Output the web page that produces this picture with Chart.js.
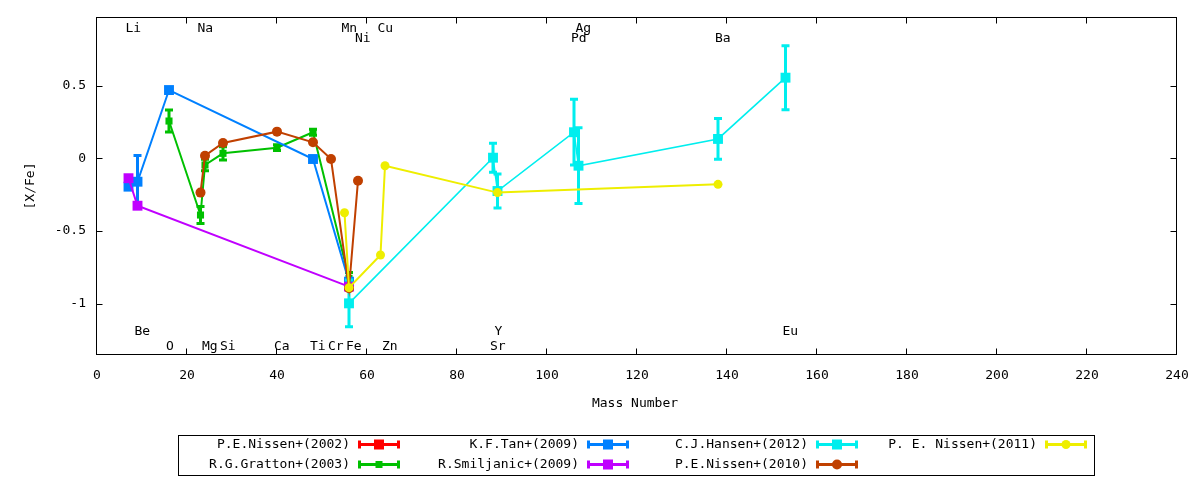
<!DOCTYPE html>
<html><head><meta charset="utf-8">
<script src="https://cdn.jsdelivr.net/npm/chart.js@4/dist/chart.umd.min.js"></script>
<style>html,body{margin:0;padding:0;background:#fff;} #wrap{width:1200px;height:480px;position:relative;}</style>
</head><body><div id="wrap"><canvas id="c"></canvas></div>
<script>
// ---- data ----
const seriesNames = ['P.E.Nissen+(2002)','R.G.Gratton+(2003)','K.F.Tan+(2009)','R.Smiljanic+(2009)','C.J.Hansen+(2012)','P.E.Nissen+(2010)','P. E. Nissen+(2011)'];
const seriesColors = ['#ff0000','#00c000','#0080ff','#c000ff','#00eeee','#c04000','#eeee00'];
const seriesMarkers = ['rect','rect','rect','rect','rect','circle','circle'];

const nissen2002Mass = [];
const nissen2002Val = [];
const nissen2002Err = [];

const gratton2003Mass = [16, 23, 24, 28, 40, 48, 56];
const gratton2003Val = [0.256, -0.39, -0.046, 0.034, 0.073, 0.179, -0.825];
const gratton2003Err = [0.075, 0.058, 0.04, 0.045, 0.02, 0.02, 0.04];

const tan2009Mass = [7, 9, 16, 48, 56];
const tan2009Val = [-0.195, -0.161, 0.469, -0.005, -0.848];
const tan2009Err = [0, 0.18, 0, 0, 0];

const smiljanic2009Mass = [7, 9, 56];
const smiljanic2009Val = [-0.137, -0.326, -0.882];
const smiljanic2009Err = [0, 0, 0];

const hansen2012Mass = [56, 88, 89, 106, 107, 138, 153];
const hansen2012Val = [-0.997, 0.004, -0.225, 0.179, -0.051, 0.133, 0.554];
const hansen2012Err = [0.16, 0.1, 0.117, 0.226, 0.26, 0.14, 0.22];

const nissen2010Mass = [23, 24, 28, 40, 48, 52, 56, 58];
const nissen2010Val = [-0.236, 0.018, 0.105, 0.183, 0.11, -0.005, -0.893, -0.154];
const nissen2010Err = [0, 0, 0, 0, 0, 0, 0, 0];

const nissen2011Mass = [55, 56, 63, 64, 89, 138];
const nissen2011Val = [-0.374, -0.889, -0.665, -0.051, -0.236, -0.179];
const nissen2011Err = [0, 0, 0, 0, 0, 0];

const xTicks = [0, 20, 40, 60, 80, 100, 120, 140, 160, 180, 200, 220, 240];
const yTicks = [-1, -0.5, 0, 0.5];

const elementNames = ['Li','Na','Mn','Cu','Ag','Ni','Pd','Ba','Be','Y','Eu','O','Mg','Si','Ca','Ti','Cr','Fe','Zn','Sr'];
const elementMass  = [7, 23, 55, 63, 107, 58, 106, 138, 9, 89, 153, 16, 24, 28, 40, 48, 52, 56, 64, 88];
const elementLabelY = [0.894, 0.894, 0.894, 0.894, 0.894, 0.824, 0.824, 0.824, -1.19, -1.19, -1.19, -1.297, -1.297, -1.297, -1.297, -1.297, -1.297, -1.297, -1.297, -1.297];

// ---- build ----
const masses = [nissen2002Mass, gratton2003Mass, tan2009Mass, smiljanic2009Mass, hansen2012Mass, nissen2010Mass, nissen2011Mass];
const values = [nissen2002Val, gratton2003Val, tan2009Val, smiljanic2009Val, hansen2012Val, nissen2010Val, nissen2011Val];
const errors = [nissen2002Err, gratton2003Err, tan2009Err, smiljanic2009Err, hansen2012Err, nissen2010Err, nissen2011Err];
const markerRadius = {rect: 7, circle: 5};
const FONT = 'DejaVu Sans Mono';

const datasets = seriesNames.map((name, i) => ({
  label: name,
  data: masses[i].map((m, j) => ({x: m, y: values[i][j]})),
  errors: errors[i],
  showLine: true,
  borderColor: seriesColors[i],
  backgroundColor: seriesColors[i],
  borderWidth: i === 4 ? 1.6 : 2,
  pointStyle: seriesMarkers[i],
  pointRadius: i === 1 ? 5 : (i === 6 ? 4.5 : markerRadius[seriesMarkers[i]]),
  pointBorderWidth: 0,
  pointHoverRadius: 0,
  tension: 0,
  order: seriesNames.length - 1 - i
}));

const errorBars = {
  id: 'errorBars',
  beforeDatasetDraw(chart, args) {
    const ds = chart.data.datasets[args.index];
    const {ctx, scales: {x, y}} = chart;
    ctx.save();
    ctx.strokeStyle = ds.borderColor;
    ctx.lineWidth = 3;
    ds.data.forEach((p, j) => {
      const e = ds.errors[j];
      if (!e) return;
      const px = x.getPixelForValue(p.x);
      const y1 = y.getPixelForValue(p.y + e), y2 = y.getPixelForValue(p.y - e);
      ctx.beginPath();
      ctx.moveTo(px, y1); ctx.lineTo(px, y2);
      ctx.moveTo(px - 4, y1); ctx.lineTo(px + 4, y1);
      ctx.moveTo(px - 4, y2); ctx.lineTo(px + 4, y2);
      ctx.stroke();
    });
    ctx.restore();
  }
};

const frame = {
  id: 'frame',
  beforeDatasetsDraw(chart) {
    const {ctx, chartArea: a, scales: {x, y}} = chart;
    ctx.save();
    ctx.strokeStyle = '#000';
    ctx.lineWidth = 1;
    const L = Math.round(a.left) - 0.5, R = Math.round(a.right) - 0.5, T = Math.round(a.top) + 0.5, B = Math.round(a.bottom) - 0.5;
    ctx.strokeRect(L, T, R - L, B - T);
    ctx.beginPath();
    xTicks.forEach(v => {
      const px = Math.round(x.getPixelForValue(v)) - 0.5;
      if (v === xTicks[0] || v === xTicks[xTicks.length - 1]) return;
      ctx.moveTo(px, B); ctx.lineTo(px, B - 6);
      ctx.moveTo(px, T); ctx.lineTo(px, T + 6);
    });
    yTicks.forEach(v => {
      const py = Math.round(y.getPixelForValue(v)) + 0.5;
      ctx.moveTo(L, py); ctx.lineTo(L + 6, py);
      ctx.moveTo(R, py); ctx.lineTo(R - 6, py);
    });
    ctx.stroke();
    ctx.restore();
  },
  afterDatasetsDraw(chart) {
    const {ctx, chartArea: a, scales: {x, y}} = chart;
    ctx.save();
    ctx.fillStyle = '#000';
    ctx.font = '13px "' + FONT + '"';
    ctx.textBaseline = 'middle';
    ctx.textAlign = 'left';
    elementNames.forEach((n, i) => {
      ctx.fillText(n, x.getPixelForValue(elementMass[i]) - 3, y.getPixelForValue(elementLabelY[i]));
    });
    // axis titles
    ctx.textAlign = 'center';
    ctx.fillText('Mass Number', (a.left + a.right) / 2 - 2, 404);
    ctx.save();
    ctx.translate(31, 186);
    ctx.rotate(-Math.PI / 2);
    ctx.fillText('[X/Fe]', 0, 0);
    ctx.restore();
    // legend
    ctx.strokeStyle = '#000';
    ctx.lineWidth = 1;
    ctx.strokeRect(178.5, 435.5, 916, 40);
    const colW = 229;
    seriesNames.forEach((n, i) => {
      const col = Math.floor(i / 2), row = i % 2;
      const ty = 444.5 + row * 20;
      const tx = 350 + col * colW;
      ctx.fillStyle = '#000';
      ctx.textAlign = 'right';
      ctx.fillText(n, tx, ty);
      const x0 = tx + 8, x1 = tx + 50;
      ctx.strokeStyle = seriesColors[i];
      ctx.lineWidth = 3;
      ctx.beginPath();
      ctx.moveTo(x0, ty); ctx.lineTo(x1, ty);
      ctx.moveTo(x0 + 1.5, ty - 4); ctx.lineTo(x0 + 1.5, ty + 4);
      ctx.moveTo(x1 - 1.5, ty - 4); ctx.lineTo(x1 - 1.5, ty + 4);
      ctx.stroke();
      ctx.fillStyle = seriesColors[i];
      const cx = (x0 + x1) / 2;
      if (seriesMarkers[i] === 'circle') {
        ctx.beginPath(); ctx.arc(cx, ty, i === 6 ? 4.5 : 5, 0, Math.PI * 2); ctx.fill();
      } else {
        const s = i === 1 ? 3.5 : 5;
        ctx.fillRect(cx - s, ty - s, 2 * s, 2 * s);
      }
    });
    ctx.restore();
  }
};

new Chart(document.getElementById('c'), {
  type: 'scatter',
  data: {datasets},
  options: {
    responsive: true,
    maintainAspectRatio: false,
    animation: false,
    devicePixelRatio: 1,
    layout: {padding: {left: 0, right: 23, top: 17, bottom: 0}},
    plugins: {legend: {display: false}, tooltip: {enabled: false}},
    events: [],
    scales: {
      x: {
        type: 'linear', min: 0, max: 240,
        afterBuildTicks: s => { s.ticks = xTicks.map(v => ({value: v})); },
        afterFit: s => { s.height = 125; s.paddingLeft = 0; s.paddingRight = 0; },
        grid: {display: false, drawTicks: false},
        border: {display: false},
        ticks: {color: '#000', font: {family: FONT, size: 13}, padding: 13, maxRotation: 0, autoSkip: false, callback: v => String(v)}
      },
      y: {
        type: 'linear', min: -1.352, max: 0.971,
        afterBuildTicks: s => { s.ticks = yTicks.map(v => ({value: v})); },
        afterFit: s => { s.width = 97; s.paddingTop = 0; s.paddingBottom = 0; },
        grid: {display: false, drawTicks: false},
        border: {display: false},
        ticks: {color: '#000', font: {family: FONT, size: 13}, padding: 11, autoSkip: false, callback: v => String(v)}
      }
    }
  },
  plugins: [errorBars, frame]
});
</script></body></html>
